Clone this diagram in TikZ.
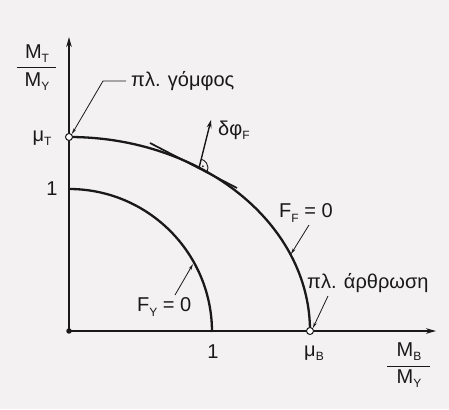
\documentclass[tikz,border=0pt]{standalone}
\usepackage{fontspec}
\setmainfont{Liberation Sans}
\usetikzlibrary{arrows.meta,calc}
\definecolor{bg}{RGB}{243,241,242}
\definecolor{ink}{RGB}{25,25,25}
\newcommand{\sbs}[1]{\raisebox{-0.4ex}{\fontsize{12}{12}\selectfont #1}}
\begin{document}
\begin{tikzpicture}[x=1pt,y=1pt,
  lbl/.style={font=\fontsize{20}{22}\selectfont, text=ink, inner sep=0pt},
  axis/.style={draw=ink, line width=1.5pt, -{Stealth[length=10pt,width=5.5pt]}},
  curve/.style={draw=ink, line width=2.3pt},
  leader/.style={draw=ink, line width=0.8pt, -{Stealth[length=6pt,width=3pt]}},
  fracbar/.style={draw=ink, line width=1pt},
  opendot/.style={circle, draw=ink, fill=white, line width=1pt, minimum size=7pt, inner sep=0pt},
  fulldot/.style={circle, fill=ink, minimum size=5.5pt, inner sep=0pt}]
\fill[bg] (-69,-78) rectangle (380,331);
\useasboundingbox (-69,-78) rectangle (380,331);
% points
\coordinate (O) at (0,0);
\coordinate (ytip) at (0,294);
\coordinate (xtip) at (367,0);
% axes
\draw[axis] (O) -- (ytip);
\draw[axis] (O) -- (xtip);
% curves
\draw[curve] (0,142) arc[start angle=90, end angle=0, radius=143];
\draw[curve] (0,194) arc[start angle=90, end angle=0, x radius=241, y radius=194];
% dots
\node[fulldot] (o) at (O) {};
\node[opendot] (muT) at (0,194) {};
\node[opendot] (muB) at (241,0) {};
% tangent and normal
\coordinate (tp) at (130,163);
\coordinate (t1) at (81,188);
\coordinate (t2) at (168,143);
\draw[ink, line width=1.7pt] (t1) -- (t2);
\coordinate (ntip) at (142,211);
\draw[ink, line width=1.4pt, -{Stealth[length=8pt,width=5pt]}] (tp) -- (ntip);
\draw[ink, line width=0.9pt] ($(tp)+(-27.3:9)$) arc[start angle=-27.3, end angle=75, radius=9];
\fill[ink] ($(tp)+(24:4.2)$) circle[radius=1];
% axis labels
\node[lbl] (mt) at (-27,193) {μ\sbs{T}};
\node[lbl] (one1) at (-17,142) {1};
\node[lbl] (one2) at (144,-21) {1};
\node[lbl] (mb) at (245,-22) {μ\sbs{B}};
% y axis fraction
\node[lbl] (ynum) at (-32,277) {M\sbs{T}};
\node[lbl] (yden) at (-32,249) {M\sbs{Y}};
\coordinate (yb1) at (-52,263);
\coordinate (yb2) at (-13,263);
\draw[fracbar] (yb1) -- (yb2);
% x axis fraction
\node[lbl] (xnum) at (340,-21) {M\sbs{B}};
\node[lbl] (xden) at (340,-48) {M\sbs{Y}};
\coordinate (xb1) at (318,-35);
\coordinate (xb2) at (361,-35);
\draw[fracbar] (xb1) -- (xb2);
% annotations
\node[lbl, anchor=west] (gomf) at (62,250) {πλ. γόμφος};
\node[lbl, anchor=west] (dphi) at (149,201) {δφ\sbs{F}};
\node[lbl, anchor=west] (ff) at (210,118) {F\sbs{F} = 0};
\node[lbl, anchor=west] (arth) at (238,48) {πλ. άρθρωση};
\node[lbl, anchor=west] (fy) at (68,24) {F\sbs{Y} = 0};
% leaders
\coordinate (gb) at (34,250);
\draw[leader] ($(gomf.west)+(-5,0)$) -- (gb) -- (muT.north east);
\draw[leader] (240,106) -- (222,77);
\draw[leader] (259,35) -- (muB.north east);
\draw[leader] (106,36) -- (124,67);
\end{tikzpicture}
\end{document}
